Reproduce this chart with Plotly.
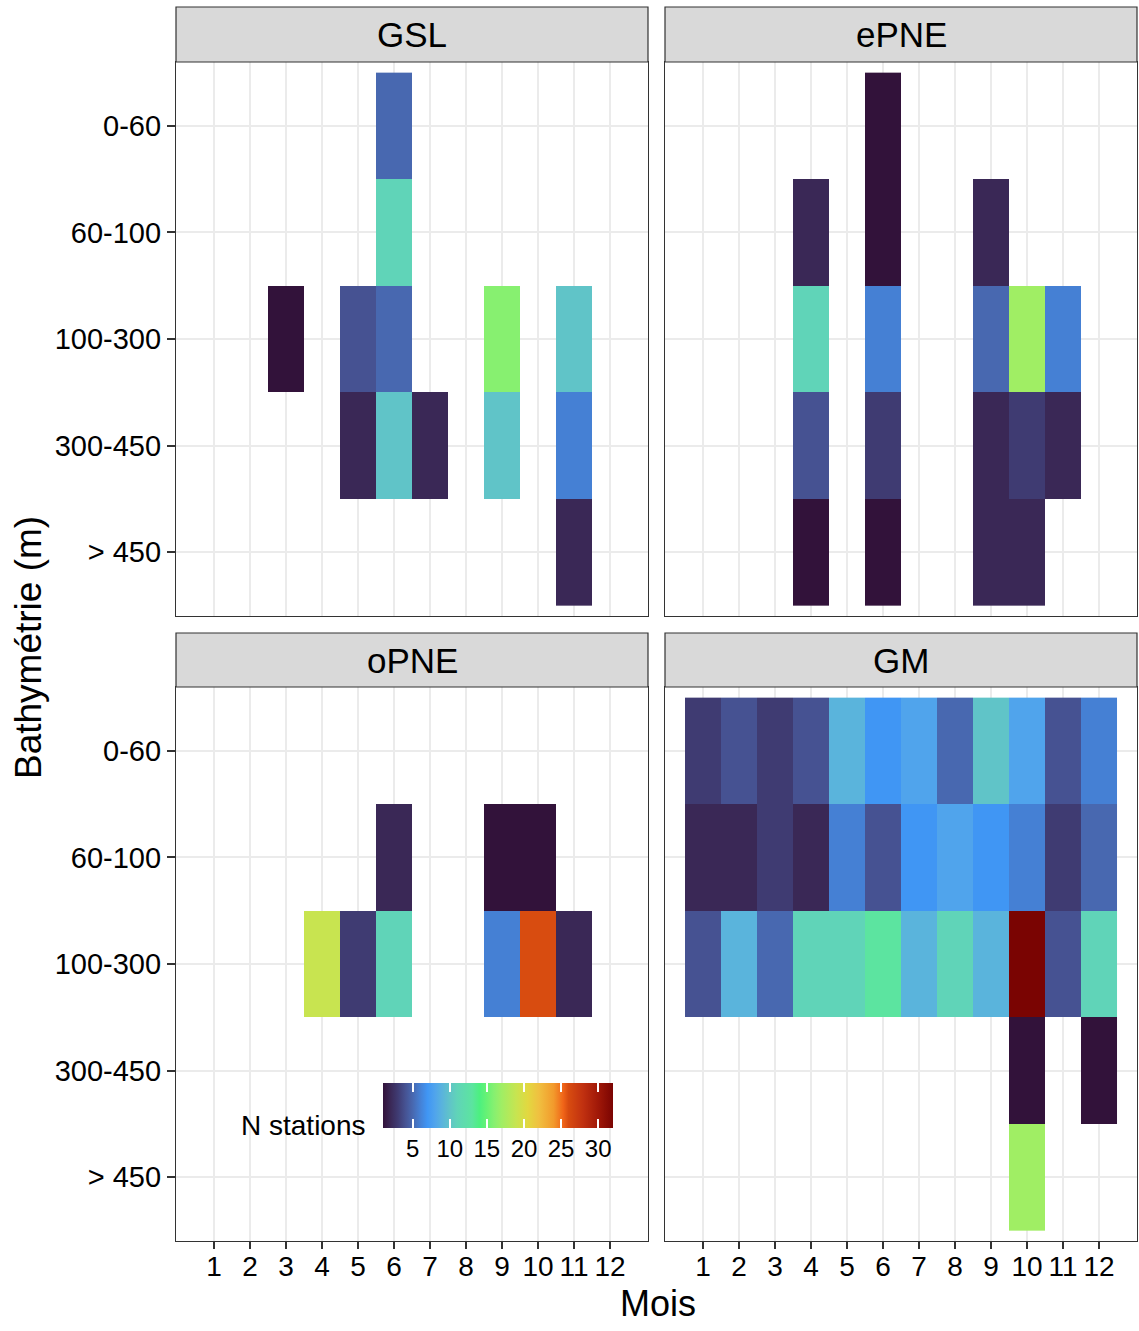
import plotly.graph_objects as go

W, H = 1139, 1331

# Data: number of stations per month and depth band, per region
months = list(range(1, 13))
depths = ["0-60", "60-100", "100-300", "300-450", "> 450"]
regions = ["GSL", "ePNE", "oPNE", "GM"]

N = None
n_gsl = [
    [N, N, N, N, N, 5, N, N, N, N, N, N],
    [N, N, N, N, N, 11, N, N, N, N, N, N],
    [N, N, 1, N, 4, 5, N, N, 16, N, 10, N],
    [N, N, N, N, 2, 10, 2, N, 10, N, 6, N],
    [N, N, N, N, N, N, N, N, N, N, 2, N],
]
n_epne = [
    [N, N, N, N, N, 1, N, N, N, N, N, N],
    [N, N, N, 2, N, 1, N, N, 2, N, N, N],
    [N, N, N, 11, N, 6, N, N, 5, 17, 6, N],
    [N, N, N, 4, N, 3, N, N, 2, 3, 2, N],
    [N, N, N, 1, N, 1, N, N, 2, 2, N, N],
]
n_opne = [
    [N, N, N, N, N, N, N, N, N, N, N, N],
    [N, N, N, N, N, 2, N, N, 1, 1, N, N],
    [N, N, N, 19, 3, 11, N, N, 6, 26, 2, N],
    [N, N, N, N, N, N, N, N, N, N, N, N],
    [N, N, N, N, N, N, N, N, N, N, N, N],
]
n_gm = [
    [3, 4, 3, 4, 9, 7, 8, 5, 10, 8, 4, 6],
    [2, 2, 3, 2, 6, 4, 7, 8, 7, 6, 3, 5],
    [4, 9, 5, 11, 11, 13, 9, 11, 9, 32, 4, 11],
    [N, N, N, N, N, N, N, N, N, 1, N, 1],
    [N, N, N, N, N, N, N, N, N, 17, N, N],
]
region_counts = [n_gsl, n_epne, n_opne, n_gm]

cb_ticks = [5, 10, 15, 20, 25, 30]
n_min, n_max = 1, 32

# Turbo-like palette, anchored on station counts
palette = [
    (1, "#32123a"), (2, "#3a2856"), (3, "#3f3b72"), (4, "#465292"),
    (5, "#4868b0"), (6, "#4580d4"), (7, "#4096f4"), (8, "#50a4ec"),
    (9, "#5ab4dc"), (10, "#60c4c8"), (11, "#60d4b8"), (13, "#5ce4a0"),
    (14, "#4cf080"), (15, "#68f274"), (16, "#87f070"), (17, "#a0ee64"),
    (19, "#c8e450"), (20.5, "#e2d840"), (22, "#f0c040"), (24, "#f29a2c"),
    (25.3, "#f06418"), (26, "#d84c10"), (28, "#c03010"), (30, "#a01808"),
    (32, "#7a0402"),
]
colorscale = [[(v - n_min) / (n_max - n_min), c] for v, c in palette]
clear_scale = [[0, "rgba(255,255,255,0)"], [1, "rgba(255,255,255,0)"]]


def px_x(p):
    return p / W


def px_y(p):
    return 1 - p / H


# Panel geometry (pixels)
cols = [(176, 648), (665, 1137)]
rows = [(62, 616), (687, 1241)]
strips = [(7, 62), (633, 687)]

FONT = "Liberation Sans, Arial, sans-serif"
fig = go.Figure()

for i, (name, z) in enumerate(zip(regions, region_counts)):
    r, c = divmod(i, 2)
    ax = "" if i == 0 else str(i + 1)
    fig.add_trace(go.Heatmap(
        x=months, y=depths, z=z,
        coloraxis="coloraxis",
        xaxis="x" + ax, yaxis="y" + ax,
        hoverongaps=False,
        name=name,
    ))
    x0, x1 = cols[c]
    y0, y1 = rows[r]
    bottom = r == 1
    left = c == 0
    fig.layout["xaxis" + ax] = dict(
        domain=[px_x(x0), px_x(x1)],
        range=[-0.056, 13.056],
        tickvals=months,
        showticklabels=bottom,
        ticks="outside" if bottom else "",
        ticklen=7, tickwidth=1.5, tickcolor="#333333",
        ticklabelstandoff=-7,
        tickfont=dict(size=28, color="#000000", family=FONT),
        showgrid=True, gridcolor="#ebebeb", gridwidth=1.8,
        zeroline=False,
        showline=True, linecolor="#333333", linewidth=1.2, mirror=True,
        anchor="y" + ax,
        fixedrange=True,
    )
    fig.layout["yaxis" + ax] = dict(
        domain=[px_y(y1), px_y(y0)],
        type="category",
        categoryorder="array", categoryarray=depths,
        range=[4.6, -0.6],
        showticklabels=left,
        ticks="outside" if left else "",
        ticklen=8, tickwidth=1.5, tickcolor="#333333",
        tickfont=dict(size=29, color="#000000", family=FONT),
        showgrid=True, gridcolor="#ebebeb", gridwidth=1.8,
        zeroline=False,
        showline=True, linecolor="#333333", linewidth=1.2, mirror=True,
        anchor="x" + ax,
        fixedrange=True,
    )
    # facet strip
    s0, s1 = strips[r]
    fig.add_shape(type="rect", xref="paper", yref="paper",
                  x0=px_x(x0), x1=px_x(x1), y0=px_y(s1), y1=px_y(s0),
                  fillcolor="#d9d9d9", line=dict(color="#333333", width=1.2),
                  layer="above")
    fig.add_annotation(x=px_x((x0 + x1) / 2), y=px_y((s0 + s1) / 2),
                       xref="paper", yref="paper", text=name, showarrow=False,
                       xanchor="center", yanchor="middle",
                       font=dict(size=35, color="#000000", family=FONT))

colorbar_main = dict(
    orientation="h",
    x=px_x(383), xanchor="left",
    y=px_y(1083), yanchor="top",
    len=230, lenmode="pixels",
    thickness=45, thicknessmode="pixels",
    xpad=0, ypad=0, outlinewidth=0,
    tickvals=cb_ticks,
    ticks="inside", ticklen=9, tickwidth=1.5, tickcolor="white",
    tickfont=dict(size=24, color="#000000", family=FONT),
)
# Thin transparent strip over the top edge of the bar, carrying the upper tick marks
colorbar_top = dict(colorbar_main, thickness=9, showticklabels=False)

# Off-range helper trace that only drives the second colour bar
fig.add_trace(go.Scatter(
    x=[-5], y=[depths[0]], mode="markers",
    marker=dict(color=[n_min], coloraxis="coloraxis2", size=1),
    xaxis="x3", yaxis="y3", hoverinfo="skip", showlegend=False,
))

fig.update_layout(
    width=W, height=H,
    margin=dict(l=0, r=0, t=0, b=0),
    paper_bgcolor="white", plot_bgcolor="white",
    showlegend=False,
    coloraxis=dict(colorscale=colorscale, cmin=n_min, cmax=n_max,
                   colorbar=colorbar_main),
    coloraxis2=dict(colorscale=clear_scale, cmin=n_min, cmax=n_max,
                    colorbar=colorbar_top),
)

# Axis titles and legend title
fig.add_annotation(x=px_x(658), y=px_y(1303), xref="paper", yref="paper",
                   text="Mois", showarrow=False, xanchor="center", yanchor="middle",
                   font=dict(size=36, color="#000000", family=FONT))
fig.add_annotation(x=px_x(28), y=px_y(648), xref="paper", yref="paper",
                   text="Bathymétrie (m)", showarrow=False, textangle=-90,
                   xanchor="center", yanchor="middle",
                   font=dict(size=37, color="#000000", family=FONT))
fig.add_annotation(x=px_x(368), y=px_y(1125), xref="paper", yref="paper",
                   text="N stations", showarrow=False, xanchor="right", yanchor="middle",
                   font=dict(size=28, color="#000000", family=FONT))

fig.write_html("out.html")
